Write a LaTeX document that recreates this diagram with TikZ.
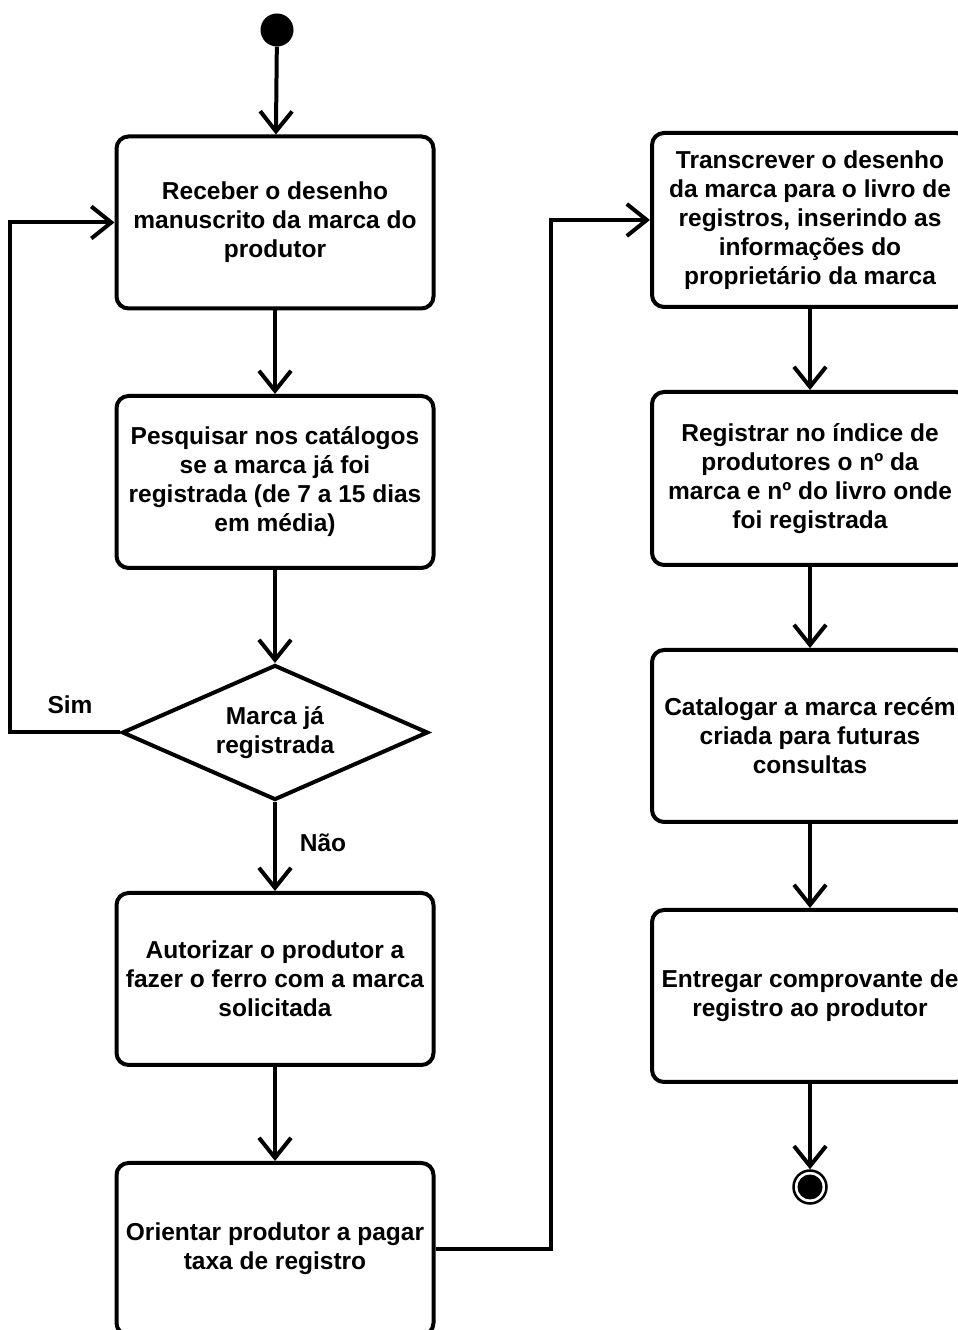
\documentclass[tikz,border=0pt]{standalone}
\usepackage{fontspec}
\setmainfont{Liberation Sans}
\usetikzlibrary{arrows.meta,shapes.geometric}

\tikzset{
    acao/.style={draw, line width=4pt, rounded corners=12pt,
        minimum width=317pt, minimum height=172pt, align=center,
        font=\bfseries\fontsize{24.5}{29}\selectfont},
    decisao/.style={draw, diamond, aspect=2.27, line width=4pt, inner sep=0pt,
        minimum width=306pt, minimum height=135pt, align=center,
        font=\bfseries\fontsize{24.5}{29}\selectfont},
    rotulo/.style={font=\bfseries\fontsize{24.5}{29}\selectfont},
    seta/.style={line width=4pt,
        -{Straight Barb[length=20pt,width=32pt,line width=4pt]}}
}

\begin{document}
\begin{tikzpicture}[x=1pt,y=1pt]

    % Page
    \useasboundingbox (0,0) rectangle (958,1330);
    \clip (0,0) rectangle (958,1330);

    % Start and end
    \node[circle, fill=black, minimum size=33pt, inner sep=0pt] (inicio) at (277,1300) {};
    \node[circle, draw, line width=2.5pt, minimum size=33pt, inner sep=0pt] (fim) at (810,143) {};
    \fill (fim.center) circle (12.5pt);

    % Left column
    \node[acao] (receber) at (275,1107.5) {Receber o desenho\\manuscrito da marca do\\produtor};
    \node[acao] (pesquisar) at (275,848) {Pesquisar nos catálogos\\se a marca já foi\\registrada (de 7 a 15 dias\\em média)};
    \node[decisao] (marca) at (275,597.5) {Marca já\\registrada};
    \node[acao] (autorizar) at (275,351) {Autorizar o produtor a\\fazer o ferro com a marca\\solicitada};
    \node[acao] (orientar) at (275,81) {Orientar produtor a pagar\\taxa de registro};

    % Right column
    \node[acao, minimum width=316pt, minimum height=174pt] (transcrever) at (810,1110) {Transcrever o desenho\\da marca para o livro de\\registros, inserindo as\\informações do\\proprietário da marca};
    \node[acao, minimum width=316pt, minimum height=173pt] (indice) at (810,851.5) {Registrar no índice de\\produtores o nº da\\marca e nº do livro onde\\foi registrada};
    \node[acao, minimum width=316pt] (catalogar) at (810,594) {Catalogar a marca recém\\criada para futuras\\consultas};
    \node[acao, minimum width=316pt] (entregar) at (810,334) {Entregar comprovante de\\registro ao produtor};

    % Straight flows
    \foreach \a/\b in {inicio/receber, receber/pesquisar, pesquisar/marca,
        marca/autorizar, autorizar/orientar, transcrever/indice,
        indice/catalogar, catalogar/entregar, entregar/fim}
        \draw[seta] (\a) -- (\b);

    % Back to the start when already registered
    \draw[seta] (marca.west) -- ++(-110,0) |- (receber.west);
    \node[rotulo] (sim) at (70,625) {Sim};
    \node[rotulo] (nao) at (323,487) {Não};

    % Over to the right column
    \draw[seta] (orientar.east) -- ++(115,0) |- (transcrever.west);

\end{tikzpicture}
\end{document}
